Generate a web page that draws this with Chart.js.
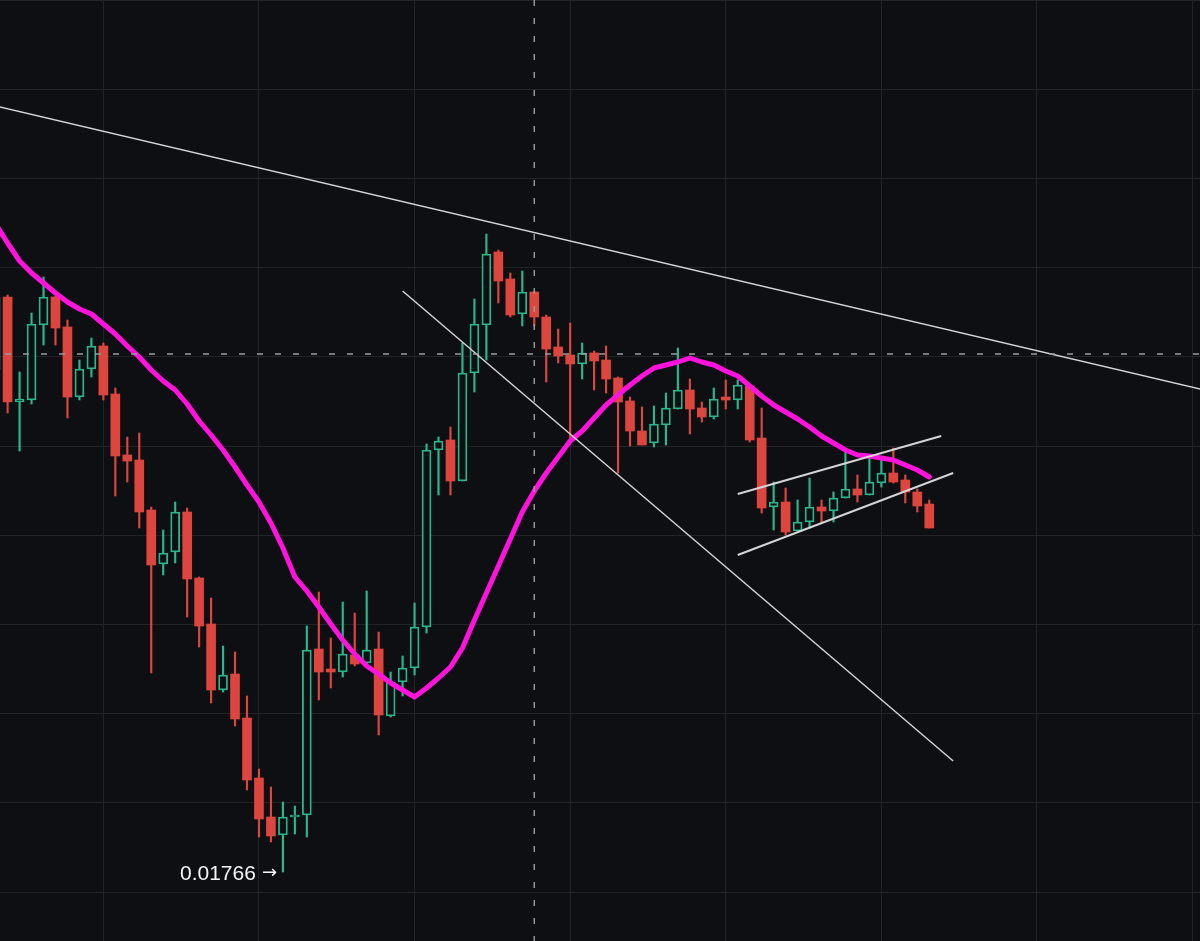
<!DOCTYPE html>
<html>
<head>
<meta charset="utf-8">
<script src="https://cdn.jsdelivr.net/npm/chart.js@4.4.1/dist/chart.umd.min.js"></script>
<style>
  html, body { margin: 0; padding: 0; background: #0e0f12; overflow: hidden; }
  #wrap { width: 1200px; height: 941px; position: relative; }
</style>
</head>
<body>
<div id="wrap"><canvas id="c" width="1200" height="941"></canvas></div>
<script>
// ---- data ----
const candleIndex = [-1,0,1,2,3,4,5,6,7,8,9,10,11,12,13,14,15,16,17,18,19,20,21,22,23,24,25,26,27,28,29,30,31,32,33,34,35,36,37,38,39,40,41,42,43,44,45,46,47,48,49,50,51,52,53,54,55,56,57,58,59,60,61,62,63,64,65,66,67,68,69,70,71,72,73,74,75,76,77];

const opens = [0.020170,0.020535,0.020010,0.020020,0.020395,0.020535,0.020385,0.020035,0.020175,0.020290,
  0.020050,0.019745,0.019720,0.019470,0.019200,0.019260,0.019460,0.019130,0.018900,0.018570,
  0.018650,0.018430,0.018130,0.017935,0.017845,0.017935,0.017945,0.018775,0.018675,0.018660,
  0.018745,0.018705,0.018775,0.018440,0.018610,0.018680,0.018885,0.019770,0.019820,0.019615,
  0.020155,0.020395,0.020760,0.020625,0.020450,0.020560,0.020435,0.020285,0.020245,0.020200,
  0.020255,0.020220,0.020130,0.020015,0.019865,0.019805,0.019895,0.019975,0.020070,0.019980,
  0.019935,0.020035,0.020020,0.020090,0.019830,0.019485,0.019510,0.019365,0.019410,0.019485,
  0.019465,0.019530,0.019575,0.019545,0.019605,0.019655,0.019620,0.019560,0.019500];

const highs = [0.020570,0.020545,0.020160,0.020455,0.020635,0.020540,0.020420,0.020220,0.020330,0.020305,
  0.020080,0.019835,0.019855,0.019485,0.019370,0.019510,0.019480,0.019135,0.019030,0.018790,
  0.018760,0.018540,0.018175,0.018085,0.018010,0.017990,0.018890,0.019060,0.018830,0.019010,
  0.018955,0.019065,0.018860,0.018660,0.018740,0.019005,0.019800,0.019835,0.019885,0.020305,
  0.020525,0.020850,0.020770,0.020655,0.020665,0.020565,0.020445,0.020375,0.020405,0.020305,
  0.020265,0.020290,0.020135,0.020035,0.019985,0.019990,0.020055,0.020280,0.020125,0.020010,
  0.020080,0.020120,0.020120,0.020090,0.019980,0.019610,0.019580,0.019520,0.019630,0.019520,
  0.019560,0.019760,0.019645,0.019730,0.019720,0.019780,0.019645,0.019575,0.019520];

const lows = [0.020120,0.019955,0.019765,0.020000,0.020295,0.020295,0.019930,0.020020,0.020135,0.020020,
  0.019540,0.019610,0.019380,0.018655,0.019145,0.019205,0.018935,0.018785,0.018505,0.018560,
  0.018390,0.018070,0.017835,0.017810,0.017660,0.017850,0.017835,0.018520,0.018580,0.018635,
  0.018690,0.018690,0.018345,0.018435,0.018540,0.018645,0.018855,0.019545,0.019545,0.019615,
  0.020060,0.020220,0.020505,0.020435,0.020390,0.020390,0.020110,0.020205,0.019810,0.020125,
  0.020070,0.020055,0.019655,0.019790,0.019795,0.019785,0.019795,0.019975,0.019850,0.019910,
  0.019925,0.019975,0.019975,0.019810,0.019455,0.019370,0.019345,0.019360,0.019380,0.019405,
  0.019410,0.019530,0.019510,0.019545,0.019585,0.019605,0.019505,0.019460,0.019380];

const closes = [0.020535,0.020010,0.020025,0.020400,0.020535,0.020380,0.020035,0.020175,0.020290,0.020045,
  0.019740,0.019715,0.019460,0.019195,0.019255,0.019460,0.019125,0.018890,0.018570,0.018645,
  0.018425,0.018120,0.017925,0.017840,0.017935,0.017945,0.018770,0.018660,0.018660,0.018750,
  0.018700,0.018770,0.018445,0.018610,0.018680,0.018885,0.019770,0.019815,0.019615,0.020155,
  0.020400,0.020750,0.020615,0.020445,0.020560,0.020435,0.020275,0.020240,0.020200,0.020255,
  0.020215,0.020125,0.020010,0.019865,0.019795,0.019900,0.019980,0.020070,0.019975,0.019935,
  0.020025,0.020020,0.020095,0.019820,0.019480,0.019510,0.019360,0.019410,0.019485,0.019465,
  0.019530,0.019575,0.019545,0.019610,0.019655,0.019610,0.019560,0.019490,0.019380];

const movingAverage = [0.020900,0.020805,0.020715,0.020655,0.020605,0.020555,0.020510,0.020475,0.020450,0.020400,
  0.020350,0.020290,0.020235,0.020170,0.020115,0.020070,0.020000,0.019915,0.019845,0.019770,
  0.019685,0.019595,0.019510,0.019405,0.019280,0.019135,0.019065,0.018985,0.018900,0.018820,
  0.018750,0.018690,0.018650,0.018605,0.018570,0.018535,0.018580,0.018630,0.018685,0.018780,
  0.018920,0.019055,0.019190,0.019325,0.019460,0.019565,0.019655,0.019735,0.019815,0.019865,
  0.019930,0.019995,0.020045,0.020095,0.020140,0.020180,0.020195,0.020210,0.020230,0.020210,
  0.020195,0.020165,0.020140,0.020090,0.020040,0.019995,0.019960,0.019925,0.019885,0.019840,
  0.019805,0.019770,0.019745,0.019740,0.019730,0.019720,0.019695,0.019670,0.019635];

// trend lines: [startIndex, startPrice, endIndex, endPrice]
const trendMain    = [-1, 0.021490, 100, 0.020070];
const trendFalling = [33, 0.020565, 79, 0.018215];
const channelUpper = [61, 0.019550, 78, 0.019840];
const channelLower = [61, 0.019245, 79, 0.019655];

const crosshairIndex = 44;
const crosshairPrice = 0.020250;

const lowMarker = { index: 23, price: 0.01766, text: '0.01766', arrow: '→' };

const xRange = [-0.635, 99.62];
const yRange = [0.017315, 0.022020];
const gridIndices = [8, 21, 34, 47, 60, 73, 86, 99];
const gridPrices = [0.022020, 0.021574, 0.021128, 0.020682, 0.020236, 0.019790, 0.019344, 0.018898, 0.018452, 0.018006, 0.017560];

// ---- styles ----
const BG = '#0e0f12';
const UP = '#2bb68d';
const DOWN = '#dc463f';
const MA_COLOR = '#ff12dc';
const LINE_COLOR = '#d4d4d6';
const CROSS_COLOR = '#9b9ca1';
const GRID_COLOR = '#232428';

const isUp = closes.map((c, i) => c >= opens[i]);
const wickData = candleIndex.map((x, i) => ({ x, y: [lows[i], highs[i]] }));
const bodyData = candleIndex.map((x, i) => ({ x, y: [opens[i], closes[i]] }));
const maData = candleIndex.map((x, i) => ({ x, y: movingAverage[i] }));
const seg = (t) => [{ x: t[0], y: t[1] }, { x: t[2], y: t[3] }];

const lineDs = (data, color, width, order, extra) => Object.assign({
  type: 'line', data, borderColor: color, borderWidth: width, pointRadius: 0,
  fill: false, tension: 0, order
}, extra || {});

const lowLabel = {
  id: 'lowLabel',
  afterDatasetsDraw(chart) {
    const { ctx, scales: { x, y } } = chart;
    const px = x.getPixelForValue(lowMarker.index);
    const py = y.getPixelForValue(lowMarker.price);
    ctx.save();
    ctx.fillStyle = '#f4f4f4';
    ctx.textBaseline = 'alphabetic';
    ctx.textAlign = 'right';
    ctx.font = '21px "Liberation Sans", Arial, sans-serif';
    ctx.fillText(lowMarker.text, px - 27, py + 7.5);
    ctx.textAlign = 'left';
    ctx.font = '18px "DejaVu Sans", sans-serif';
    ctx.fillText(lowMarker.arrow, px - 21, py + 6);
    ctx.restore();
  }
};

new Chart(document.getElementById('c'), {
  data: {
    datasets: [
      { type: 'bar', data: wickData, grouped: false, barThickness: 1.5,
        backgroundColor: isUp.map(u => u ? UP : DOWN), borderWidth: 0, order: 6 },
      { type: 'bar', data: bodyData, grouped: false, barThickness: 9, minBarLength: 1.5,
        backgroundColor: isUp.map(u => u ? BG : DOWN),
        borderColor: isUp.map(u => u ? UP : DOWN),
        borderWidth: isUp.map(u => u ? 1.8 : 0), borderSkipped: false, order: 5 },
      lineDs(maData, MA_COLOR, 5, 4, { borderCapStyle: 'round', borderJoinStyle: 'round' }),
      lineDs(seg(trendMain), LINE_COLOR, 1.5, 3),
      lineDs(seg(trendFalling), LINE_COLOR, 1.5, 3),
      lineDs(seg(channelUpper), LINE_COLOR, 2, 3),
      lineDs(seg(channelLower), LINE_COLOR, 2, 3),
      lineDs([{ x: xRange[0], y: crosshairPrice }, { x: xRange[1], y: crosshairPrice }], CROSS_COLOR, 1.4, 1,
        { borderDash: [6, 12], borderDashOffset: 13 }),
      lineDs([{ x: crosshairIndex, y: yRange[1] }, { x: crosshairIndex, y: yRange[0] }], CROSS_COLOR, 1.4, 1,
        { borderDash: [6, 12] })
    ]
  },
  options: {
    responsive: false,
    animation: false,
    events: [],
    layout: { padding: 0, autoPadding: false },
    plugins: { legend: { display: false }, tooltip: { enabled: false } },
    scales: {
      x: {
        type: 'linear', min: xRange[0], max: xRange[1], offset: false,
        afterBuildTicks: (s) => { s.ticks = gridIndices.map(v => ({ value: v })); },
        ticks: { display: false },
        grid: { color: GRID_COLOR, lineWidth: 1, drawTicks: false, offset: false },
        border: { display: false }
      },
      y: {
        type: 'linear', min: yRange[0], max: yRange[1],
        afterBuildTicks: (s) => { s.ticks = gridPrices.map(v => ({ value: v })); },
        ticks: { display: false },
        grid: { color: GRID_COLOR, lineWidth: 1, drawTicks: false },
        border: { display: false }
      }
    }
  },
  plugins: [lowLabel]
});
</script>
</body>
</html>
